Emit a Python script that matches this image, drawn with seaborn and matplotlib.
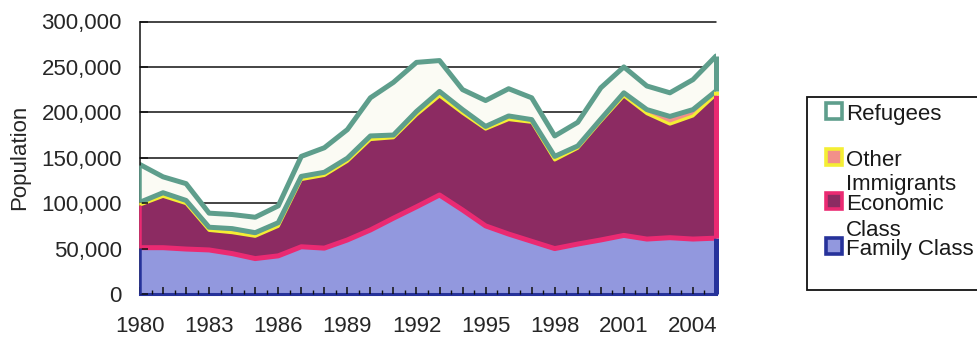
import matplotlib
matplotlib.use("Agg")
import matplotlib.pyplot as plt
import numpy as np
import pandas as pd
import seaborn as sns
from matplotlib.patches import Rectangle
from matplotlib.ticker import FuncFormatter, MultipleLocator

# Annual admissions by category
years = list(range(1980, 2006))
family_class = [51000, 51000, 49500, 48500, 44500, 39000, 42000, 52000, 50500, 59500,
                70500, 83500, 96000, 109000, 92500, 75000, 66000, 58000, 50000, 55000,
                59500, 64500, 60500, 62000, 60500, 61500]
economic_immigrants = [47000, 56500, 50000, 21500, 23000, 24500, 32500, 74000, 80000, 86500,
                       99500, 88500, 101000, 109000, 106500, 106500, 126000, 131000, 97500, 105500,
                       130500, 153500, 138000, 125000, 135500, 158000]
other = [3000, 4000, 3500, 3500, 4500, 4000, 4000, 3500, 3500, 3500,
         4000, 3000, 4000, 5000, 4000, 3000, 4000, 3000, 4000, 2500,
         2500, 3500, 4500, 8500, 7000, 4000]
refugees = [41500, 17500, 18500, 15500, 15500, 17000, 18500, 22000, 27000, 31500,
            42000, 58000, 54000, 34000, 22000, 28500, 30000, 24000, 22500, 26000,
            34500, 28500, 26000, 26000, 33000, 38500]

series_names = ["Family Class", "Economic Immigrants Class", "Other", "Refugees"]
y_ticks = [0, 50000, 100000, 150000, 200000, 250000, 300000]
label_years = [1980, 1983, 1986, 1989, 1992, 1995, 1998, 2001, 2004]

fill_colors = ["#9298de", "#8c2b62", "#f2908a", "#fbfbf4"]
edge_colors = ["#26329a", "#ea2a72", "#f4ee34", "#5e9e8c"]

W, H = 977, 339
FS = 16
sns.set_theme(style="white")
plt.rcParams["font.family"] = ["Liberation Sans", "DejaVu Sans"]
plt.rcParams["text.color"] = "#1a1a1a"

df = pd.DataFrame({"Year": years,
                   "Family Class": family_class,
                   "Economic Immigrants Class": economic_immigrants,
                   "Other": other,
                   "Refugees": refugees})
cum = df[series_names].cumsum(axis=1)
bounds = [np.zeros(len(years))] + [cum[c].to_numpy() for c in series_names]

fig = plt.figure(figsize=(W / 100, H / 100), dpi=100)
ax = fig.add_axes([140 / W, 1 - 294 / H, 576 / W, 272.5 / H])
ax.set_xlim(1980, 2005)
ax.set_ylim(0, 300000)
ax.set_axisbelow(False)

# horizontal gridlines behind the areas
for v in y_ticks[1:]:
    ax.axhline(v, color="#111111", linewidth=1.1, zorder=0.5, clip_on=False)

# stacked area fills
for i, name in enumerate(series_names):
    ax.fill_between(df["Year"], bounds[i], bounds[i + 1],
                    facecolor=fill_colors[i], linewidth=0, zorder=1)

# boundary lines: each series outlines its lower edge in its own colour
line_w = [2.2, 3.6, 2.2, 3.6]
for i, name in enumerate(series_names):
    if i == 0:
        continue
    sns.lineplot(x=df["Year"], y=bounds[i], color=edge_colors[i],
                 linewidth=line_w[i], ax=ax, zorder=2 + i * 0.1)
sns.lineplot(x=df["Year"], y=bounds[4], color=edge_colors[3],
             linewidth=3.6, ax=ax, zorder=2.5)

# side faces at both ends of the stack
for i in range(4):
    ax.vlines(2005, bounds[i][-1], bounds[i + 1][-1], colors=edge_colors[i],
              linewidth=3.6, clip_on=False, zorder=3)
    ax.vlines(1980, bounds[i][0], bounds[i + 1][0], colors=edge_colors[i],
              linewidth=1.8, clip_on=False, zorder=3)

# axes styling
for s in ["top", "right"]:
    ax.spines[s].set_visible(False)
ax.spines["left"].set_color("#111111")
ax.spines["left"].set_linewidth(1.1)
ax.spines["bottom"].set_color(edge_colors[0])
ax.spines["bottom"].set_linewidth(2.2)

ax.set_yticks(y_ticks)
ax.yaxis.set_major_formatter(FuncFormatter(lambda v, p: f"{v:,.0f}"))
ax.set_xticks(years)
ax.set_xticklabels([str(y) if y in label_years else "" for y in years])
ax.xaxis.set_minor_locator(MultipleLocator(0.5))
ax.tick_params(axis="x", which="major", direction="in", length=5, width=1.1,
               color="#111111", labelsize=FS, pad=16, bottom=True)
ax.tick_params(axis="x", which="minor", direction="in", length=3, width=1.0,
               color="#111111", bottom=True)
ax.tick_params(axis="y", which="major", direction="in", length=6, width=1.1,
               color="#111111", labelsize=FS, pad=13, left=True)
ax.set_xlabel("")
ax.set_ylabel("Population", fontsize=FS)
ax.yaxis.set_label_coords(-0.19, 0.5)


# legend drawn in figure pixel space
def fx(x):
    return x / W


def fy(y):
    return 1 - y / H


fig.add_artist(Rectangle((fx(807), fy(290)), fx(980) - fx(807), (290 - 97) / H,
                         transform=fig.transFigure, facecolor="white",
                         edgecolor="#111111", linewidth=1.3, clip_on=False))

marker_y = [111.5, 156.5, 201, 246]
legend_order = [3, 2, 1, 0]
for yc, idx in zip(marker_y, legend_order):
    fig.add_artist(Rectangle((fx(826), fy(yc + 8)), 16 / W, 16 / H,
                             transform=fig.transFigure,
                             facecolor=fill_colors[idx] if idx != 3 else "white",
                             edgecolor=edge_colors[idx], linewidth=2.6))

legend_text = [("Refugees", 120), ("Other", 165.5), ("Immigrants", 190),
               ("Economic", 209.5), ("Class", 235.5), ("Family Class", 255)]
for txt, yb in legend_text:
    fig.text(fx(846), fy(yb), txt, fontsize=FS, va="baseline", ha="left")

fig.savefig("out.png", dpi=100)
